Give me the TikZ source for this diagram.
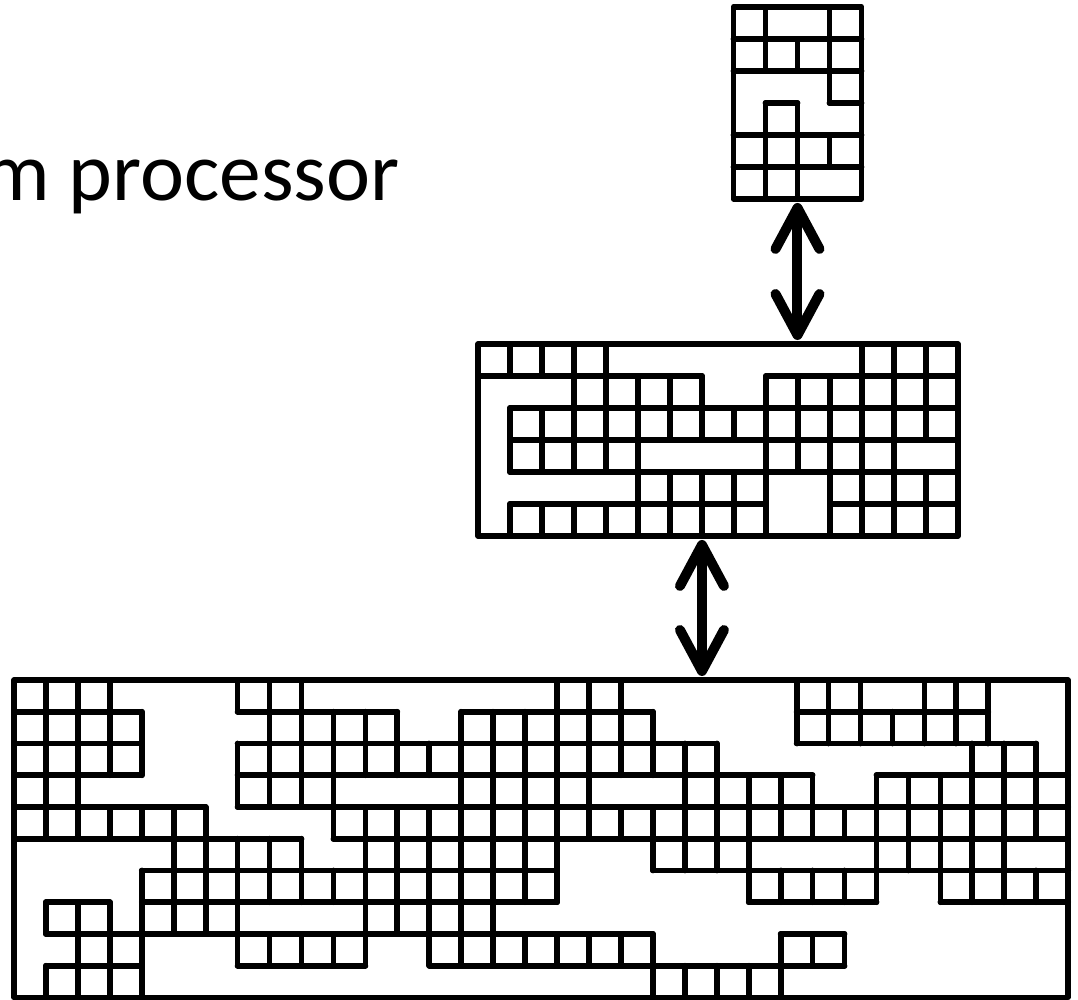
\documentclass[tikz,border=0pt]{standalone}
\usepackage{fontspec}
\usepackage{tikz}
\usetikzlibrary{arrows.meta, positioning}
\newfontfamily\calib{Carlito}

\begin{document}
\begin{tikzpicture}[x=0.02cm, y=-0.02cm,
  block/.style={draw, rectangle, anchor=north west, inner sep=0pt, outer sep=0pt,
    line width=0.115cm, line join=round},
  wall/.style={line width=0.115cm, line cap=round},
  link/.style={line width=0.2cm, shorten <=0.08cm, shorten >=0.08cm,
    {Straight Barb[round,length=0.82cm,width=0.88cm]}-{Straight Barb[round,length=0.82cm,width=0.88cm]}}]

\useasboundingbox (0,0) rectangle (1078,1000);

\node[anchor=base east, inner sep=0pt, font=\calib\fontsize{47.5pt}{56pt}\selectfont] (title) at (400,201) {m processor};

\node[block, minimum width=2.56cm, minimum height=3.84cm] (top) at (733.5,7) {};
\node[block, minimum width=9.6cm, minimum height=3.84cm] (mid) at (478,344) {};
\node[block, minimum width=21.08cm, minimum height=6.35cm] (low) at (14,680) {};

\begin{scope}[shift={(top.north west)}, x=0.64cm, y=-0.64cm, wall]
  \foreach \r/\a/\b in {1/0/4, 2/0/4, 3/1/2, 3/3/4, 4/0/4, 5/0/4}
    \draw (\a,\r) -- (\b,\r);
  \foreach \c/\a/\b in {1/0/2, 1/3/6, 2/1/2, 2/3/6, 3/0/3, 3/4/5}
    \draw (\c,\a) -- (\c,\b);
\end{scope}

\begin{scope}[shift={(mid.north west)}, x=0.64cm, y=-0.64cm, wall]
  \foreach \r/\a/\b in {1/0/7, 1/9/15, 2/1/15, 3/1/15, 4/1/15, 5/1/9, 5/11/15}
    \draw (\a,\r) -- (\b,\r);
  \foreach \c/\a/\b in {1/0/1, 1/2/4, 1/5/6, 2/0/1, 2/2/4, 2/5/6, 3/0/4, 3/5/6,
      4/0/4, 4/5/6, 5/1/6, 6/1/3, 6/4/6, 7/1/3, 7/4/6, 8/2/3, 8/4/6, 9/1/6,
      10/1/4, 11/1/6, 12/0/6, 13/0/6, 14/0/3, 14/4/6}
    \draw (\c,\a) -- (\c,\b);
\end{scope}

\begin{scope}[shift={(low.north west)}, x=0.639cm, y=-0.635cm, wall]
  \foreach \r/\a/\b in {1/0/4, 1/7/12, 1/14/20, 1/24.5/30.5, 2/0/4, 2/7/22, 2/24.5/32,
      3/0/4, 3/7/25, 3/27/33, 4/0/6, 4/7/33, 5/0/9, 5/10/33, 6/4/17, 6/20/33,
      7/1/3, 7/4/17, 7/23/27, 7/29/33, 8/1/20, 8/24/26, 9/1/4, 9/7/11, 9/13/26}
    \draw (\a,\r) -- (\b,\r);
  \foreach \c/\a/\b in {1/0/5, 1/7/8, 1/9/10, 2/0/5, 2/7/10, 3/0/3, 3/4/5, 3/7/10,
      4/1/3, 4/4/5, 4/6/10, 5/4/8, 6/4/8, 7/0/1, 7/2/4, 7/5/9, 8/0/4, 8/5/7, 8/8/9,
      9/0/4, 9/5/7, 9/8/9, 10/1/5, 10/6/7, 10/8/9, 11/1/3, 11/4/9, 12/1/3, 12/4/8,
      13/2/3, 13/4/9, 14/1/9, 15/1/9, 16/1/7, 16/8/9, 17/0/7, 17/8/9, 18/0/5, 18/8/9,
      19/0/3, 19/4/5, 19/8/9, 20/1/3, 20/4/6, 20/8/10, 21/2/6, 21/9/10, 22/2/6,
      22/9/10, 23/3/7, 23/9/10, 24/3/5, 24/6/7, 24/8/10, 25/3/5, 25/6/7, 25/8/9,
      26/4/5, 26/6/7, 26/8/9, 27/3/7, 28/3/6, 29/3/7, 30/2/7, 31/2/7, 32/2/5, 32/6/7,
      24.5/0/2, 25.5/0/2, 26.5/0/2, 27.5/1/2, 28.5/0/2, 29.5/0/2, 30.5/0/2}
    \draw (\c,\a) -- (\c,\b);
\end{scope}

\draw[link] (top.south) -- (top.south |- mid.north);
\draw[link] ([xshift=-0.32cm]mid.south) -- ([xshift=-0.32cm]mid.south |- low.north);

\end{tikzpicture}
\end{document}
